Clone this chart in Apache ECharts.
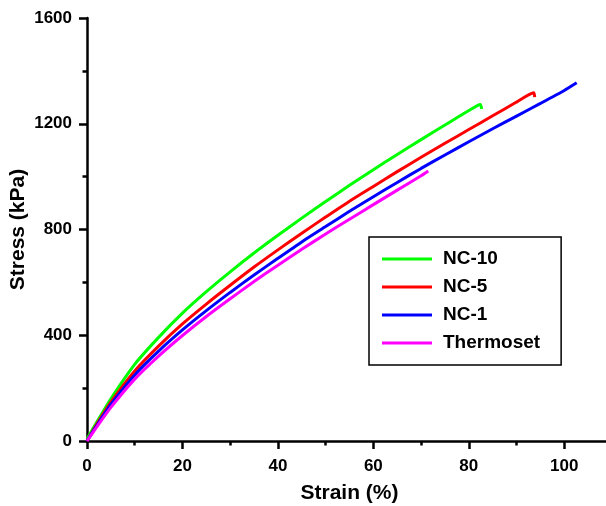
<!DOCTYPE html>
<html>
<head>
<meta charset="utf-8">
<script src="https://cdn.jsdelivr.net/npm/echarts@6/dist/echarts.min.js"></script>
<style>html,body{margin:0;padding:0;background:#fff}#c{width:606px;height:506px}</style>
</head>
<body>
<div id="c"></div>
<script>
const seriesNames = ['NC-10', 'NC-5', 'NC-1', 'Thermoset'];
const seriesColors = ['#00ff00', '#ff0000', '#0000ff', '#ff00ff'];

const nc10Strain = [0, 2, 5, 10, 15, 20, 25, 30, 35, 40, 45, 50, 55, 60, 65, 70, 75, 80, 82.4, 82.7];
const nc10Stress = [8, 70, 160, 290, 392, 484, 565, 640, 711, 778, 843, 906, 967, 1026, 1084, 1140, 1195, 1250, 1273, 1256];

const nc5Strain = [0, 2, 5, 10, 15, 20, 25, 30, 35, 40, 45, 50, 55, 60, 65, 70, 75, 80, 85, 90, 93.6, 93.8];
const nc5Stress = [0, 62, 147, 265, 359, 443, 518, 589, 658, 723, 786, 847, 907, 963, 1019, 1073, 1126, 1178, 1230, 1282, 1317, 1301];

const nc1Strain = [0, 2, 5, 10, 15, 20, 25, 30, 35, 40, 45, 50, 55, 60, 65, 70, 75, 80, 85, 90, 95, 100, 102.6];
const nc1Stress = [0, 57, 138, 250, 340, 420, 493, 562, 628, 691, 753, 811, 869, 924, 978, 1031, 1082, 1132, 1181, 1229, 1277, 1326, 1355];

const thermoStrain = [0, 2, 5, 10, 15, 20, 25, 30, 35, 40, 45, 50, 55, 60, 65, 70, 71.5];
const thermoStress = [0, 52, 127, 234, 321, 399, 471, 538, 603, 665, 725, 783, 839, 894, 949, 1003, 1021];

const xTicks = [0, 20, 40, 60, 80, 100];
const yTicks = [0, 400, 800, 1200, 1600];

const strainSets = [nc10Strain, nc5Strain, nc1Strain, thermoStrain];
const stressSets = [nc10Stress, nc5Stress, nc1Stress, thermoStress];

const FONT = 'Liberation Sans';
const chart = echarts.init(document.getElementById('c'), null, {renderer: 'canvas'});
chart.setOption({
  animation: false,
  backgroundColor: '#ffffff',
  grid: {left: 87, top: 18, bottom: 65, right: -6, outerBoundsMode: 'none', containLabel: false},
  xAxis: {
    type: 'value', min: 0, max: 110, interval: 20,
    name: 'Strain (%)', nameLocation: 'middle', nameGap: 42, nameMoveOverlap: false,
    nameTextStyle: {fontFamily: FONT, fontWeight: 'bold', fontSize: 21, color: '#000'},
    axisLine: {show: true, onZero: false, lineStyle: {color: '#000', width: 2.5}},
    axisTick: {show: true, inside: false, length: 8, lineStyle: {color: '#000', width: 2.5}},
    minorTick: {show: true, splitNumber: 2, length: 4.5, lineStyle: {color: '#000', width: 2.5}},
    axisLabel: {margin: 17, fontFamily: FONT, fontWeight: 'bold', fontSize: 17, color: '#000',
      formatter: v => xTicks.indexOf(v) >= 0 ? String(v) : ''},
    splitLine: {show: false}
  },
  yAxis: {
    type: 'value', min: 0, max: 1600, interval: 400,
    name: 'Stress (kPa)', nameLocation: 'middle', nameGap: 58, nameMoveOverlap: false,
    nameTextStyle: {fontFamily: FONT, fontWeight: 'bold', fontSize: 21, color: '#000'},
    axisLine: {show: true, onZero: false, lineStyle: {color: '#000', width: 2.5}},
    axisTick: {show: true, inside: false, length: 8, lineStyle: {color: '#000', width: 2.5}},
    minorTick: {show: true, splitNumber: 2, length: 4.5, lineStyle: {color: '#000', width: 2.5}},
    axisLabel: {margin: 15, fontFamily: FONT, fontWeight: 'bold', fontSize: 17, color: '#000',
      formatter: v => yTicks.indexOf(v) >= 0 ? String(v) : ''},
    splitLine: {show: false}
  },
  legend: {
    left: 369, top: 237, orient: 'vertical',
    padding: [12, 21, 12, 13],
    borderColor: '#000', borderWidth: 1.5, backgroundColor: '#fff',
    icon: 'rect', itemWidth: 50, itemHeight: 3, itemGap: 8,
    textStyle: {fontFamily: FONT, fontWeight: 'bold', fontSize: 19, color: '#000', lineHeight: 20, padding: [0, 0, 0, 6]},
    data: seriesNames
  },
  series: seriesNames.map((n, i) => ({
    name: n, type: 'line', showSymbol: false, symbol: 'none', smooth: 0.2,
    lineStyle: {color: seriesColors[i], width: 3},
    itemStyle: {color: seriesColors[i]},
    data: strainSets[i].map((x, j) => [x, stressSets[i][j]])
  }))
});
</script>
</body>
</html>
